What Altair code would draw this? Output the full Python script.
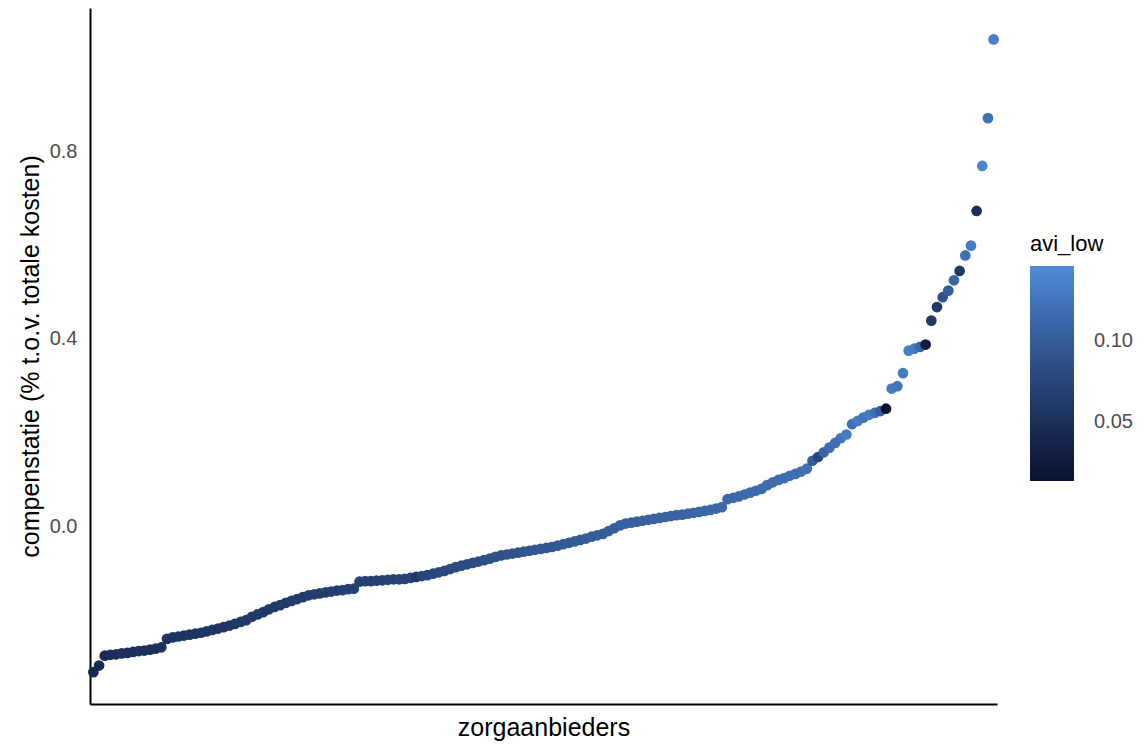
import altair as alt
import pandas as pd

# compensatie per zorgaanbieder (sorted)
compensatie = [
    -0.311, -0.297, -0.276,
    -0.274, -0.273, -0.271, -0.270, -0.268, -0.266, -0.265, -0.263, -0.261,
    -0.258, -0.240,
    -0.237, -0.235, -0.233, -0.231, -0.229, -0.227, -0.224, -0.221, -0.218, -0.215, -0.212, -0.208, -0.204, -0.200,
    -0.193, -0.188, -0.183, -0.177, -0.172, -0.168, -0.163, -0.159, -0.155, -0.151, -0.147,
    -0.145, -0.143, -0.141, -0.139, -0.137, -0.136, -0.134, -0.133,
    -0.118, -0.117, -0.117, -0.116, -0.115, -0.114, -0.113, -0.113, -0.112,
    -0.110, -0.108, -0.106, -0.104, -0.101,
    -0.098, -0.095, -0.091, -0.087, -0.084, -0.081, -0.078, -0.075, -0.072, -0.069, -0.065, -0.062,
    -0.060, -0.058, -0.056, -0.054, -0.052, -0.050, -0.048, -0.046, -0.044,
    -0.041, -0.038, -0.035, -0.032, -0.029, -0.026, -0.022, -0.019, -0.016,
    -0.010, -0.004, 0.002, 0.006,
    0.008, 0.010, 0.012, 0.014, 0.016, 0.018, 0.020, 0.022, 0.024,
    0.025, 0.027, 0.029, 0.031, 0.033, 0.035, 0.038, 0.041,
    0.058, 0.061, 0.064, 0.068, 0.072, 0.076, 0.080,
    0.088, 0.094, 0.099, 0.103, 0.108, 0.112, 0.117, 0.123,
    0.140, 0.148, 0.158, 0.168, 0.178, 0.188, 0.196,
    0.218, 0.225, 0.232, 0.238, 0.242, 0.246, 0.251,
    0.294, 0.299, 0.327, 0.375, 0.379, 0.383, 0.388, 0.439, 0.468, 0.489,
    0.503, 0.525, 0.545, 0.578, 0.599, 0.673, 0.769, 0.871, 1.039,
]

avi_low = [
    0.040, 0.045, 0.045,
    0.050, 0.050, 0.052, 0.050, 0.052, 0.053, 0.050, 0.052, 0.053,
    0.054, 0.055,
    0.055, 0.056, 0.055, 0.057, 0.056, 0.058, 0.057, 0.058, 0.059, 0.058, 0.060, 0.059, 0.060, 0.061,
    0.061, 0.062, 0.061, 0.063, 0.062, 0.064, 0.063, 0.064, 0.065, 0.064, 0.066,
    0.066, 0.067, 0.066, 0.068, 0.067, 0.069, 0.068, 0.070,
    0.070, 0.071, 0.070, 0.072, 0.071, 0.073, 0.072, 0.074, 0.073,
    0.074, 0.060, 0.075, 0.076, 0.077,
    0.078, 0.079, 0.080, 0.081, 0.082, 0.083, 0.084, 0.085, 0.086, 0.087, 0.088, 0.089,
    0.090, 0.090, 0.091, 0.092, 0.092, 0.093, 0.094, 0.094, 0.095,
    0.096, 0.096, 0.097, 0.098, 0.098, 0.099, 0.100, 0.100, 0.101,
    0.102, 0.102, 0.103, 0.103,
    0.104, 0.104, 0.105, 0.105, 0.106, 0.106, 0.107, 0.107, 0.108,
    0.108, 0.109, 0.109, 0.110, 0.110, 0.111, 0.111, 0.112,
    0.112, 0.113, 0.113, 0.114, 0.114, 0.115, 0.115,
    0.116, 0.116, 0.117, 0.117, 0.118, 0.118, 0.119, 0.119,
    0.100, 0.075, 0.110, 0.115, 0.120, 0.125, 0.130,
    0.120, 0.130, 0.125, 0.130, 0.120, 0.100, 0.015,
    0.130, 0.125, 0.130, 0.135, 0.130, 0.110, 0.030, 0.060, 0.060, 0.090,
    0.100, 0.110, 0.060, 0.120, 0.130, 0.050, 0.140, 0.120, 0.135,
]

df = pd.DataFrame({
    "rank": list(range(1, len(compensatie) + 1)),
    "compensatie": compensatie,
    "avi_low": avi_low,
})

FONT = "Liberation Sans"

points = alt.Chart(df).mark_circle(size=115, opacity=1).encode(
    x=alt.X("rank:Q", title="zorgaanbieders",
            scale=alt.Scale(domain=[0.4, len(compensatie) + 0.6], nice=False, zero=False),
            axis=alt.Axis(labels=False, ticks=False, grid=False, domainColor="black",
                          domainWidth=2, titleFontSize=25, titleFont=FONT,
                          titleFontWeight="normal", titleColor="black", titlePadding=11)),
    y=alt.Y("compensatie:Q", title="compenstatie (% t.o.v. totale kosten)",
            scale=alt.Scale(domain=[-0.379, 1.106], nice=False, zero=False),
            axis=alt.Axis(values=[0.0, 0.4, 0.8], format=".1f", ticks=False, grid=False,
                          domainColor="black", domainWidth=2, labelFontSize=20,
                          labelFont=FONT, labelColor="#4d4d4d", labelPadding=13,
                          titleFontSize=25, titleFont=FONT, titleFontWeight="normal",
                          titleColor="black", titlePadding=6)),
    color=alt.Color("avi_low:Q",
                    scale=alt.Scale(domain=[0.014, 0.146], range=["#0a1130", "#4f8ad8"],
                                    interpolate="lab"),
                    legend=alt.Legend(orient="none", legendX=940, legendY=226,
                                      values=[0.05, 0.10], format=".2f",
                                      gradientLength=215, gradientThickness=44,
                                      titleFontSize=22, titleFont=FONT, titleFontWeight="normal",
                                      titleColor="black", titlePadding=10,
                                      labelFontSize=20, labelFont=FONT, labelColor="#4d4d4d",
                                      labelOffset=20, gradientStrokeWidth=0)),
)

chart = points.properties(
    width=907, height=696,
    background="white",
    autosize=alt.AutoSizeParams(type="none"),
    padding={"left": 82, "top": 0, "right": 140, "bottom": 42},
).configure_view(stroke="transparent", strokeWidth=0)

chart.save("out.html", embed_options={"renderer": "svg", "actions": False})
